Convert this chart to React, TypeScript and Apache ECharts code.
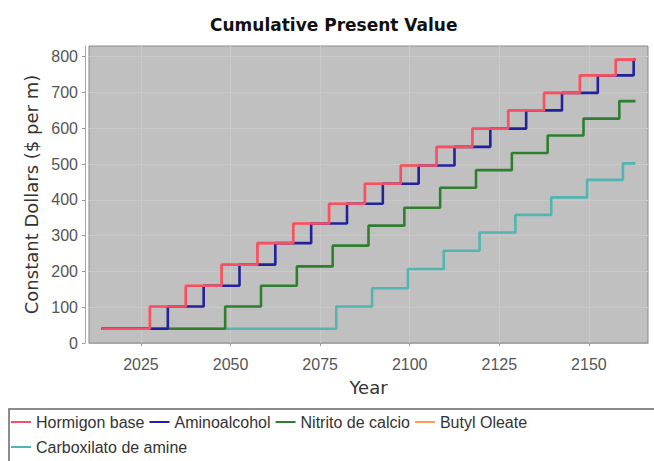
import React, { useEffect, useRef } from "react";
import * as echarts from "echarts";

const seriesNames = ["Hormigon base", "Aminoalcohol", "Nitrito de calcio", "Butyl Oleate", "Carboxilato de amine"];
const seriesColors = ["#f4506a", "#22229a", "#2f7f2f", "#ff9955", "#52b5b2"];

const hormigonYears = [2014, 2027.5, 2037.5, 2047.5, 2057.5, 2067.5, 2077.5, 2087.5, 2097.5, 2107.5, 2117.5, 2127.5, 2137.5, 2147.5, 2157.5, 2163];
const hormigonValues = [40, 102, 160, 219, 279, 334, 389, 445, 496, 548, 599, 650, 699, 748, 792, 792];

const aminoYears = [2014, 2032.5, 2042.5, 2052.5, 2062.5, 2072.5, 2082.5, 2092.5, 2102.5, 2112.5, 2122.5, 2132.5, 2142.5, 2152.5, 2162.5, 2163];
const aminoValues = [40, 102, 160, 219, 279, 334, 389, 445, 496, 548, 599, 650, 699, 748, 792, 792];

const nitritoYears = [2014, 2048.5, 2058.5, 2068.5, 2078.5, 2088.5, 2098.5, 2108.5, 2118.5, 2128.5, 2138.5, 2148.5, 2158.5, 2163];
const nitritoValues = [40, 102, 160, 214, 272, 328, 378, 434, 483, 531, 580, 627, 676, 676];

const butylYears = [2014, 2027.5, 2037.5, 2047.5, 2057.5, 2067.5, 2077.5, 2087.5, 2097.5, 2107.5, 2117.5, 2127.5, 2137.5, 2147.5, 2157.5, 2163];
const butylValues = [40, 102, 160, 219, 279, 334, 389, 445, 496, 548, 599, 650, 699, 748, 792, 792];

const carboxYears = [2014, 2079.5, 2089.5, 2099.5, 2109.5, 2119.5, 2129.5, 2139.5, 2149.5, 2159.5, 2163];
const carboxValues = [40, 102, 153, 207, 258, 309, 358, 407, 456, 502, 502];

const xTickValues = [2025, 2050, 2075, 2100, 2125, 2150];
const yTickValues = [0, 100, 200, 300, 400, 500, 600, 700, 800];

const seriesYears = [hormigonYears, aminoYears, nitritoYears, butylYears, carboxYears];
const seriesValues = [hormigonValues, aminoValues, nitritoValues, butylValues, carboxValues];
const seriesZ = [6, 5, 4, 3, 2];

const FONT = "'Liberation Sans', Arial, sans-serif";
const FONT2 = "'DejaVu Sans', Verdana, sans-serif";

export default function App() {
  const ref = useRef<HTMLDivElement>(null);
  useEffect(() => {
    if (!ref.current) return;
    const chart = echarts.init(ref.current, null, { renderer: "svg" });
    const series = seriesNames.map((name, i) => ({
      name,
      type: "line",
      step: "end",
      showSymbol: false,
      symbol: "none",
      z: seriesZ[i],
      color: seriesColors[i],
      itemStyle: { color: seriesColors[i] },
      lineStyle: { color: seriesColors[i], width: 2.6 },
      data: seriesYears[i].map((y, j) => [y, seriesValues[i][j]]),
    }));
    chart.setOption({
      animation: false,
      backgroundColor: "#ffffff",
      title: {
        text: "Cumulative Present Value",
        left: 210,
        top: 16,
        padding: 0,
        textStyle: { fontFamily: FONT2, fontWeight: "bold", fontSize: 17, color: "#111" },
      },
      grid: {
        left: 89,
        right: 6,
        top: 46,
        bottom: 118,
        show: true,
        backgroundColor: "#c0c0c0",
        borderColor: "#8a8a8a",
        borderWidth: 1,
      },
      legend: {
        data: seriesNames,
        left: 11,
        top: 412,
        width: 560,
        padding: 0,
        itemWidth: 20,
        itemHeight: 20,
        itemGap: 5,
        icon: "path://M0,0L20,0L20,2L0,2Z",
        textStyle: { fontFamily: FONT, fontSize: 16, lineHeight: 20, color: "#333" },
      },
      xAxis: {
        type: "value",
        min: 2010.5,
        max: 2166.5,
        offset: 4,
        name: "Year",
        nameLocation: "middle",
        nameGap: 31,
        nameTextStyle: { fontFamily: FONT2, fontSize: 18, color: "#333" },
        axisLine: { show: true, lineStyle: { color: "#a8a8a8", width: 1 } },
        axisTick: { show: true, length: 3, lineStyle: { color: "#999" }, customValues: xTickValues },
        axisLabel: {
          customValues: xTickValues,
          formatter: (v: number) => String(v),
          margin: 9,
          fontFamily: FONT,
          fontSize: 16,
          color: "#555",
        },
        splitLine: { show: true, lineStyle: { color: "#cacaca", width: 1 } },
      },
      yAxis: {
        type: "value",
        min: 0,
        max: 830,
        interval: 100,
        offset: 4,
        name: "Constant Dollars ($ per m)",
        nameLocation: "middle",
        nameRotate: 90,
        nameGap: 42,
        nameTextStyle: { fontFamily: FONT2, fontSize: 18, color: "#333" },
        axisLine: { show: true, lineStyle: { color: "#a8a8a8", width: 1 } },
        axisTick: { show: true, length: 3, lineStyle: { color: "#999" }, customValues: yTickValues },
        axisLabel: {
          customValues: yTickValues,
          formatter: (v: number) => String(v),
          margin: 7,
          fontFamily: FONT,
          fontSize: 16,
          color: "#555",
        },
        splitLine: { show: true, lineStyle: { color: "#cacaca", width: 1 } },
      },
      graphic: [
        {
          type: "rect",
          shape: { x: 9, y: 409, width: 700, height: 100 },
          style: { fill: "none", stroke: "#666", lineWidth: 1.5 },
          silent: true,
        },
      ],
      series,
    });
    return () => chart.dispose();
  }, []);
  return <div ref={ref} style={{ width: 654, height: 461, position: "absolute", left: 0, top: 0 }} />;
}
